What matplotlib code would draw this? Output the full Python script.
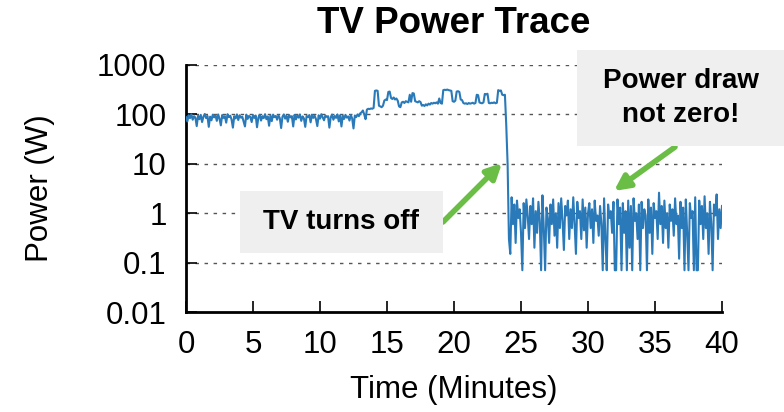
import numpy as np
import matplotlib
matplotlib.use("Agg")
import matplotlib.pyplot as plt
from matplotlib.patches import Rectangle
from matplotlib.ticker import FixedLocator, FixedFormatter, LogLocator, NullFormatter

plt.rcParams['font.family'] = ['Liberation Sans', 'DejaVu Sans']

# ---- data ----
# TV on, normal viewing (t = 0.0 .. 13.2 min, 0.1 min step), W
power_on = [
    88, 72, 96, 84, 100, 78, 92, 86, 58,
    94, 80, 98, 70, 90, 102, 84, 93, 56,
    90, 76, 99, 87, 95, 74, 100, 82, 60,
    97, 85, 92, 68, 101, 88, 94, 79, 54,
    92, 83, 100, 77, 96, 86, 90, 72, 57,
    99, 81, 93, 89, 70, 97, 85, 95, 55,
    86, 98, 75, 92, 84, 101, 80, 91, 59,
    95, 73, 99, 88, 93, 78, 96, 84, 53,
    90, 100, 82, 94, 71, 97, 87, 92, 57,
    98, 79, 95, 86, 100, 74, 91, 83, 56,
    93, 88, 97, 69, 99, 85, 94, 80, 58,
    96, 82, 101, 87, 76, 95, 89, 92, 54,
    88, 99, 78, 93, 85, 100, 72, 96, 57,
    94, 81, 98, 86, 91, 75, 97, 83, 52,
    95, 88, 100, 92, 105, 110, 120,
]
# TV on, brighter content (t = 13.3 .. 24.0 min)
power_bright = [
    100, 80, 125, 130, 128, 132, 130, 135, 300, 305,
    300, 150, 145, 140, 150, 190, 200, 195, 285, 290,
    215, 205, 220, 200, 210, 190, 145, 140, 175, 180,
    170, 185, 180, 175, 250, 180, 270, 265, 185, 180,
    175, 185, 178, 150, 155, 148, 160, 152, 165, 158,
    170, 165, 172, 168, 175, 165, 210, 170, 165, 310,
    315, 312, 318, 310, 305, 300, 185, 180, 190, 290,
    295, 285, 200, 195, 170, 165, 168, 162, 170, 165,
    168, 172, 165, 170, 250, 245, 175, 170, 168, 175,
    260, 255, 262, 170, 168, 172, 170, 175, 168, 172,
    310, 300, 305, 250, 245, 250, 60, 10,
]
# TV off, standby draw (t = 24.1 .. 40.0 min)
power_off = [
    0.3, 0.15, 2.1, 0.6, 1.5, 0.25, 1.8, 0.8, 1.2, 0.4,
    0.07, 1.6, 0.5, 1.9, 0.9, 0.3, 1.4, 0.6, 2.0, 0.2,
    1.1, 0.4, 1.7, 0.7, 0.07, 2.3, 0.5, 0.07, 1.3, 0.8,
    0.25, 1.5, 0.6, 1.9, 0.35, 1.0, 0.2, 1.6, 0.5, 2.0,
    0.7, 0.18, 1.4, 0.9, 1.8, 0.3, 1.2, 0.5, 2.1, 0.6,
    0.15, 1.7, 0.8, 1.1, 0.3, 1.9, 0.45, 1.3, 0.2, 1.0,
    1.6, 0.5, 1.2, 0.25, 1.8, 0.7, 0.9, 0.35, 1.4, 0.6,
    0.07, 2.0, 0.3, 0.07, 1.5, 0.8, 1.1, 0.4, 1.7, 0.07,
    0.07, 1.9, 0.6, 1.3, 0.07, 1.6, 0.4, 1.1, 0.07, 1.8,
    0.2, 1.4, 0.07, 2.0, 0.7, 1.0, 0.3, 1.5, 0.07, 1.7,
    0.5, 1.2, 0.9, 0.07, 1.9, 0.4, 1.3, 0.15, 1.6, 0.8,
    1.1, 0.3, 2.6, 0.6, 1.4, 0.25, 1.8, 0.5, 1.0, 0.2,
    1.5, 0.7, 1.2, 0.35, 2.0, 0.6, 0.9, 0.12, 1.7, 0.5,
    1.3, 0.07, 1.9, 0.4, 0.07, 1.6, 0.8, 1.1, 0.07, 2.1,
    0.07, 0.07, 1.8, 0.6, 1.4, 0.3, 2.2, 0.5, 1.0, 0.15,
    1.7, 0.6, 0.07, 1.5, 0.9, 2.4, 0.3, 1.2, 0.5, 1.4,
]
segment_starts = [0.0, 13.3, 24.1]   # minutes
sample_step = 0.1                    # minutes

x_ticks = [0, 5, 10, 15, 20, 25, 30, 35, 40]
y_ticks = [0.01, 0.1, 1, 10, 100, 1000]
y_tick_labels = ["0.01", "0.1", "1", "10", "100", "1000"]

title = "TV Power Trace"
x_label = "Time (Minutes)"
y_label = "Power (W)"
note_off = "TV turns off"
note_standby = "Power draw\nnot zero!"

# ---- build series ----
segments = [power_on, power_bright, power_off]
t_all, p_all = [], []
for start, seg in zip(segment_starts, segments):
    t_all.append(start + sample_step * np.arange(len(seg)))
    p_all.append(np.asarray(seg, dtype=float))
t_all = np.concatenate(t_all)
p_all = np.concatenate(p_all)

# ---- figure ----
W, H = 784, 412
fig = plt.figure(figsize=(W / 100, H / 100), dpi=100)
ax = fig.add_axes([186 / W, 1 - 312 / H, (722 - 186) / W, (312 - 65) / H])

ax.plot(t_all, p_all, color="#2a7ab9", lw=1.5, zorder=3)

ax.set_yscale("log")
ax.set_ylim(0.01, 1000)
ax.set_xlim(0, 40)
ax.yaxis.set_major_locator(FixedLocator(y_ticks))
ax.yaxis.set_major_formatter(FixedFormatter(y_tick_labels))
ax.yaxis.set_minor_locator(LogLocator(base=10, subs=np.arange(2, 10)))
ax.yaxis.set_minor_formatter(NullFormatter())
ax.set_xticks(x_ticks)

for yv in y_ticks[1:]:
    ax.axhline(yv, color="#555555", lw=1.0, ls=(0, (2.5, 4)), zorder=1)

for s in ["top", "right"]:
    ax.spines[s].set_visible(False)
for s in ["left", "bottom"]:
    ax.spines[s].set_linewidth(2.0)
    ax.spines[s].set_color("black")

ax.tick_params(axis="both", which="major", direction="in", length=8, width=1.2,
               labelsize=22.5, colors="black")
ax.tick_params(axis="x", pad=13)
ax.tick_params(axis="y", pad=14)
ax.tick_params(axis="y", which="minor", direction="in", length=4, width=1.0)

ax.set_title(title, fontsize=26.5, fontweight="bold", pad=23)
ax.set_xlabel(x_label, fontsize=22.5, labelpad=11)
ax.set_ylabel(y_label, fontsize=22.5, labelpad=30)

# ---- annotation boxes ----
def fx(px):
    return px / W

def fy(py):
    return 1 - py / H

box_col = "#efefef"
fig.patches.append(Rectangle((fx(240), fy(253)), fx(443) - fx(240), fy(191) - fy(253),
                             transform=fig.transFigure, facecolor=box_col,
                             edgecolor="none", zorder=5))
fig.text(fx(341), fy(222), note_off, ha="center", va="center", fontsize=20,
         fontweight="bold", zorder=6)

fig.patches.append(Rectangle((fx(577), fy(146)), fx(784) - fx(577), fy(50) - fy(146),
                             transform=fig.transFigure, facecolor=box_col,
                             edgecolor="none", zorder=5))
fig.text(fx(681), fy(98), note_standby, ha="center", va="center", fontsize=20,
         fontweight="bold", linespacing=1.35, zorder=6)

green = "#6abd45"
arrow_kw = dict(arrowstyle="-|>,head_length=0.9,head_width=0.45", color=green, lw=4,
                shrinkA=0, shrinkB=0)
ax.annotate("", xy=(fx(502), fy(163)), xycoords="figure fraction",
            xytext=(fx(443), fy(222)), textcoords="figure fraction",
            arrowprops=arrow_kw, zorder=7)
ax.annotate("", xy=(fx(614), fy(191)), xycoords="figure fraction",
            xytext=(fx(675), fy(147)), textcoords="figure fraction",
            arrowprops=arrow_kw, zorder=7)

fig.savefig("out.png", dpi=100)
